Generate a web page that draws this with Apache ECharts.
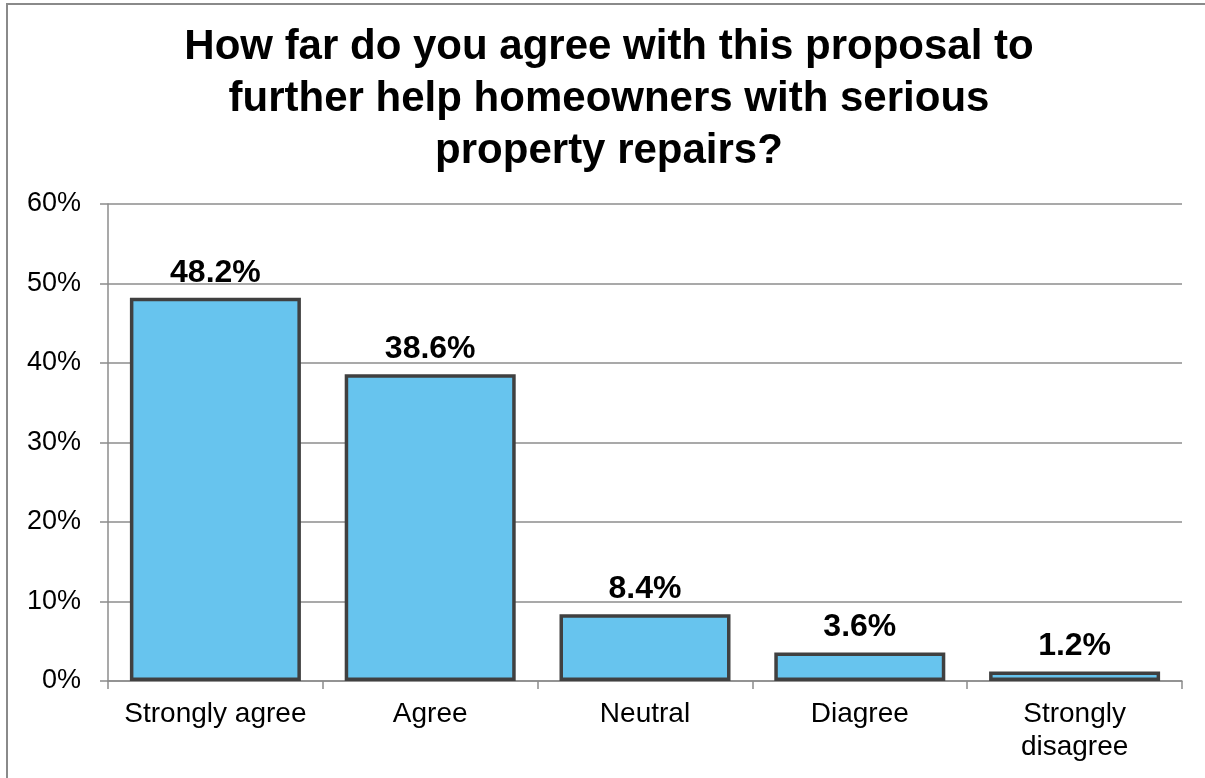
<!DOCTYPE html>
<html>
<head>
<meta charset="utf-8">
<title>Homeowner repairs proposal</title>
<script src="https://cdn.jsdelivr.net/npm/echarts@6/dist/echarts.min.js"></script>
<style>
  html, body { margin: 0; padding: 0; background: #fff; }
  #chart { width: 1205px; height: 778px; }
</style>
</head>
<body>
<div id="chart"></div>
<script>
// Survey responses (percent of respondents)
const titleText = 'How far do you agree with this proposal to\nfurther help homeowners with serious\nproperty repairs?';
const categories = ['Strongly agree', 'Agree', 'Neutral', 'Diagree', 'Strongly\ndisagree'];
const shares = [48.2, 38.6, 8.4, 3.6, 1.2];
const yTicks = { min: 0, max: 60, step: 10 };

const FONT = '"Liberation Sans", Arial, Helvetica, sans-serif';
const AXIS_GRAY = '#8c8c8c';

const chart = echarts.init(document.getElementById('chart'), null, { renderer: 'canvas' });

chart.setOption({
  backgroundColor: '#ffffff',
  animation: false,
  textStyle: { fontFamily: FONT },
  title: {
    text: titleText,
    left: 609,
    top: 21,
    padding: 0,
    textAlign: 'center',
    textStyle: {
      fontFamily: FONT,
      fontSize: 42,
      fontWeight: 'bold',
      color: '#000',
      lineHeight: 52
    }
  },
  graphic: [{
    type: 'rect',
    silent: true,
    shape: { x: 7, y: 4, width: 1400, height: 1000 },
    style: { fill: 'none', stroke: '#8a8a8a', lineWidth: 2 }
  }],
  grid: { left: 108, right: 23, top: 204, bottom: 97, containLabel: false },
  xAxis: {
    type: 'category',
    data: categories,
    axisLine: { show: true, lineStyle: { color: AXIS_GRAY, width: 1.5 } },
    axisTick: { show: true, length: 8, interval: 0, alignWithLabel: false, lineStyle: { color: AXIS_GRAY, width: 1.5 } },
    axisLabel: {
      interval: 0,
      margin: 17,
      fontFamily: FONT,
      fontSize: 28,
      color: '#000',
      lineHeight: 33
    }
  },
  yAxis: {
    type: 'value',
    min: yTicks.min,
    max: yTicks.max,
    interval: yTicks.step,
    axisLine: { show: true, lineStyle: { color: AXIS_GRAY, width: 1.5 } },
    axisTick: { show: true, length: 8, lineStyle: { color: AXIS_GRAY, width: 1.5 } },
    splitLine: { show: true, lineStyle: { color: AXIS_GRAY, width: 1.5 } },
    axisLabel: {
      margin: 27,
      fontFamily: FONT,
      fontSize: 27,
      color: '#000',
      formatter: '{value}%'
    }
  },
  series: [{
    type: 'bar',
    data: shares,
    barWidth: 171,
    itemStyle: {
      color: '#67c4ee',
      borderColor: '#404040',
      borderWidth: 3.5
    },
    label: {
      show: true,
      position: 'top',
      distance: 9,
      fontFamily: FONT,
      fontSize: 32,
      fontWeight: 'bold',
      color: '#000',
      formatter: (p) => p.value.toFixed(1) + '%'
    }
  }]
});
</script>
</body>
</html>
